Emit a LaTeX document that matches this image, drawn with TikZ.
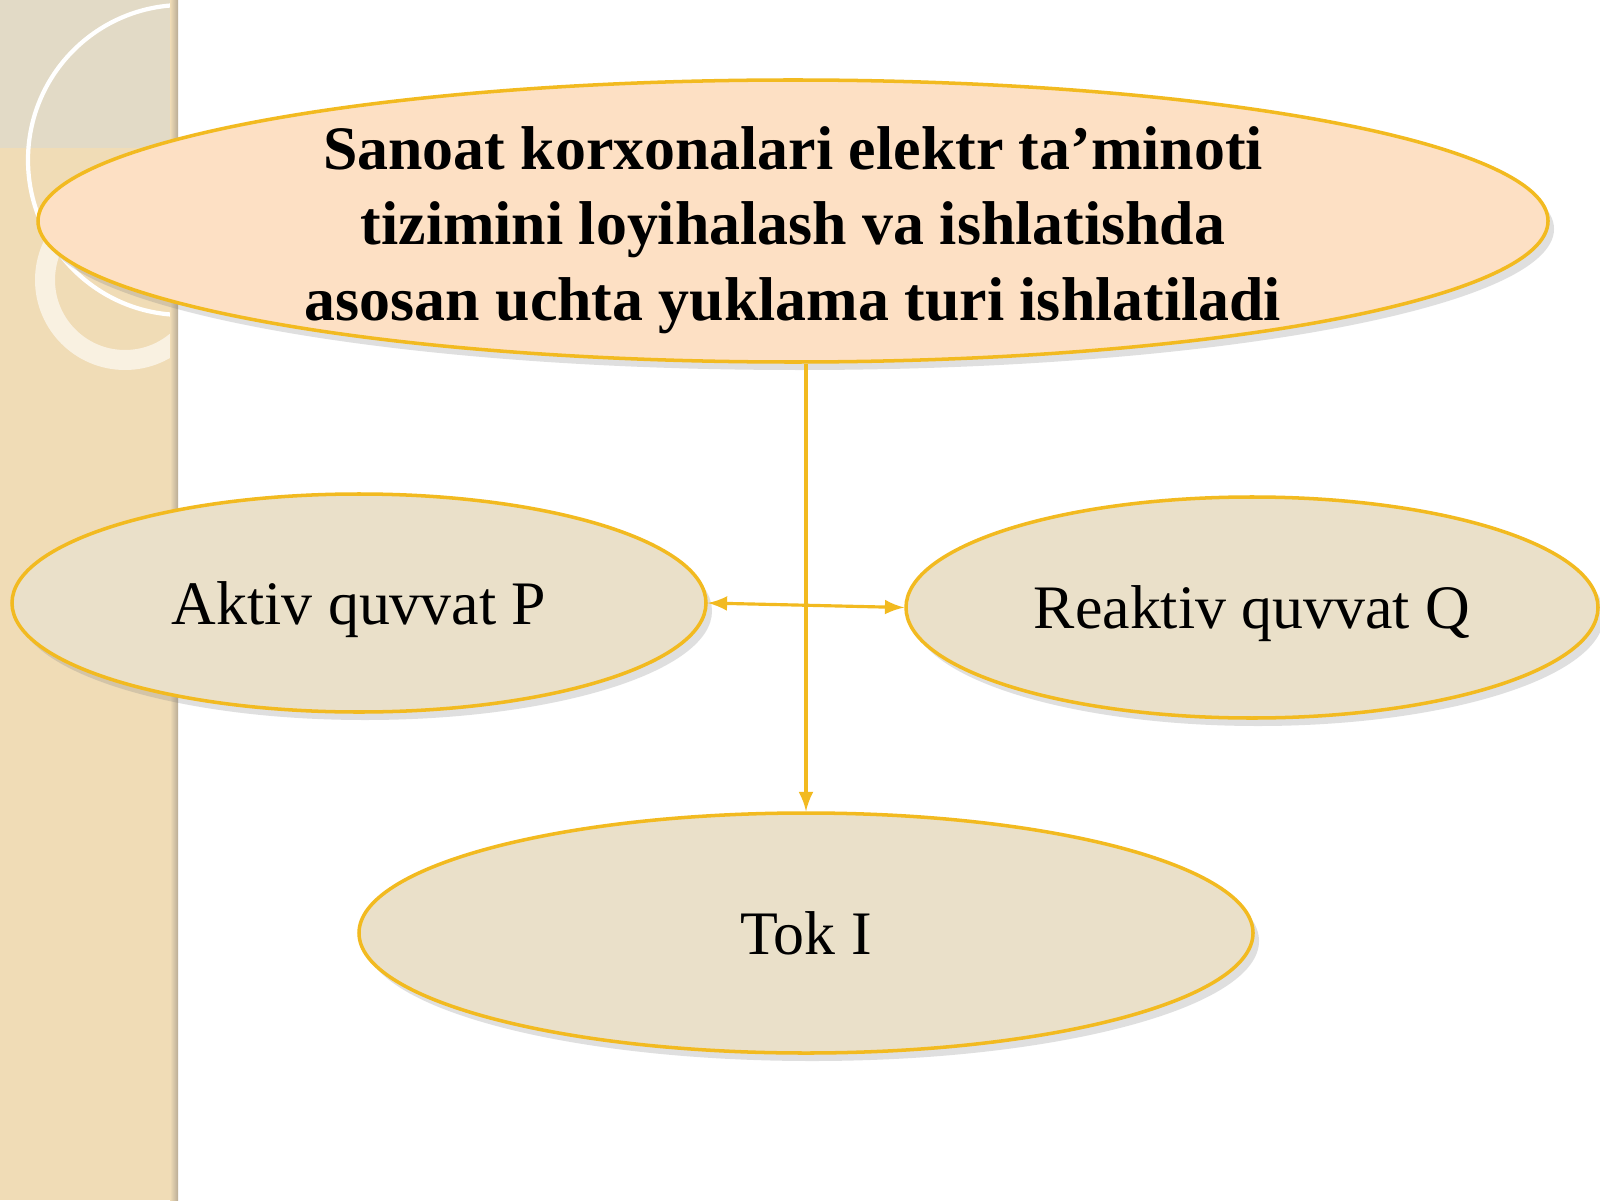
\documentclass[tikz,border=0pt]{standalone}
\usepackage{fontspec}
\setmainfont{Liberation Serif}
\usetikzlibrary{shapes.geometric,shadows}
\definecolor{oval}{RGB}{242,186,32}
\definecolor{peach}{RGB}{253,224,196}
\definecolor{sand}{RGB}{234,224,201}
\definecolor{strip}{RGB}{240,220,182}
\definecolor{stripdark}{RGB}{226,218,198}
\definecolor{stripedge}{RGB}{185,172,150}
\tikzset{
  load/.style={ellipse,draw=oval,line width=1pt,fill=sand,inner sep=0pt,
    drop shadow={shadow xshift=0.6mm,shadow yshift=-0.8mm,opacity=0.25}},
  txt/.style={font=\fontsize{17.6}{21.3}\selectfont,text depth=0pt},
  heading/.style={align=center,font=\fontsize{17.6}{21.5}\selectfont\bfseries},
  link/.style={draw=oval,line width=0.9pt}
}
\begin{document}
\begin{tikzpicture}
\useasboundingbox (0,0) rectangle (16,12);
\fill[white] (0,0) rectangle (16,12);
\begin{scope}
  \clip (0,0) rectangle (1.76,12);
  \fill[strip] (0,0) rectangle (1.76,12);
  \fill[stripdark] (0,10.52) rectangle (1.76,12);
  \draw[white,line width=1.2pt] (1.83,10.4) circle (1.55);
  \draw[white,opacity=0.6,line width=2mm] (1.25,9.2) circle (0.8);
\end{scope}
\shade[left color=strip,right color=stripedge] (1.70,0) rectangle (1.78,12);

\node[load,fill=peach,minimum width=15.1cm,minimum height=2.82cm,
  label={[name=toptext,heading,yshift=-0.09cm]center:Sanoat korxonalari elektr ta’minoti\\tizimini loyihalash va ishlatishda\\asosan uchta yuklama turi ishlatiladi}] (top) at (7.93,9.79) {};
\node[load,txt,minimum width=6.94cm,minimum height=2.18cm] (aktiv) at (3.59,5.97) {Aktiv quvvat P};
\node[load,txt,minimum width=6.92cm,minimum height=2.21cm] (reaktiv) at (12.52,5.925) {Reaktiv quvvat Q};
\node[load,txt,minimum width=8.94cm,minimum height=2.40cm] (tok) at (8.06,2.67) {Tok I};

\draw[link,-latex] (top.south -| tok.north) -- (tok.north);
\draw[link,latex-latex] (aktiv.east) -- (reaktiv.west);
\end{tikzpicture}
\end{document}
